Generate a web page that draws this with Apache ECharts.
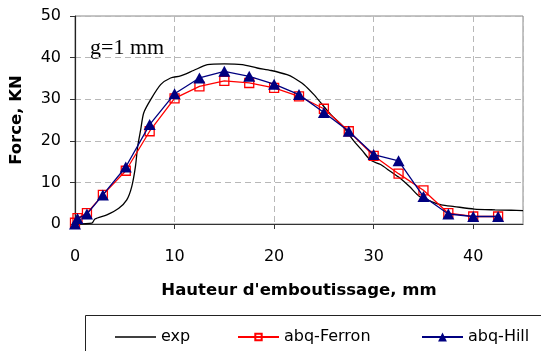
<!DOCTYPE html>
<html>
<head>
<meta charset="utf-8">
<script src="https://cdn.jsdelivr.net/npm/echarts@6/dist/echarts.min.js"></script>
<style>html,body{margin:0;padding:0;background:#fff}#c{width:541px;height:351px}</style>
</head>
<body>
<div id="c"></div>
<script>
// ---- data ----
const expX = [0, 1.7, 2.0, 3.2, 4.4, 5.2, 5.7, 6.07, 6.3, 6.6, 6.9, 7.6, 8.6, 9.6, 10.6, 11.9, 13.3, 15.0, 16.8, 18.3, 19.7, 21.3, 22.0, 23.0, 24.0, 24.7, 25.7, 26.9, 27.9, 28.9, 29.7, 30.7, 31.7, 32.6, 33.6, 34.6, 35.8, 36.8, 38.1, 40.1, 42.2, 43.8, 45];
const expY = [0, 0.2, 1.2, 2.2, 3.8, 5.8, 9.0, 13.8, 18.7, 22.7, 26.7, 29.9, 33.5, 35.1, 35.6, 36.9, 38.3, 38.5, 38.3, 37.5, 36.9, 35.9, 35.1, 33.5, 31.1, 29.1, 26.3, 23.5, 20.3, 17.5, 15.3, 14.3, 12.6, 11.1, 9.0, 6.6, 5.4, 4.6, 4.2, 3.6, 3.4, 3.3, 3.2];
const simX = [0, 0.25, 1.2, 2.8, 5.1, 7.5, 10, 12.5, 15, 17.5, 20, 22.5, 25, 27.5, 30, 32.5, 35, 37.5, 40, 42.5];
const ferronY = [0.3, 1.4, 2.6, 7.0, 12.8, 22.3, 30.2, 33.1, 34.4, 33.9, 32.7, 30.7, 27.7, 22.3, 16.4, 12.1, 8.1, 2.6, 1.8, 1.8];
const hillY = [0, 1.3, 2.4, 7.0, 13.7, 23.9, 31.3, 35.1, 36.7, 35.5, 33.6, 31.1, 26.8, 22.3, 16.7, 15.2, 6.6, 2.4, 1.8, 1.8];
const seriesNames = ['exp', 'abq-Ferron', 'abq-Hill'];
const xTicks = {min: 0, max: 45, interval: 10};
const yTicks = {min: 0, max: 50, interval: 10};
const annotation = 'g=1 mm';

const pairs = (xs, ys) => xs.map((x, i) => [x, ys[i]]);
const font = 'DejaVu Sans';
const legendText = {fontFamily: font, fontSize: 16, color: '#000'};

const chart = echarts.init(document.getElementById('c'), null, {renderer: 'canvas'});
chart.setOption({
  animation: false,
  backgroundColor: '#fff',
  grid: {left: 75, right: 18, top: 16, bottom: 127, show: true, borderColor: '#8a8a8a', borderWidth: 1, containLabel: false},
  xAxis: {
    type: 'value', min: xTicks.min, max: xTicks.max, interval: xTicks.interval,
    name: "Hauteur d'emboutissage, mm", nameLocation: 'middle', nameGap: 58,
    nameTextStyle: {fontFamily: font, fontWeight: 'bold', fontSize: 16.5, color: '#000'},
    axisLine: {show: true, onZero: false, lineStyle: {color: '#333', width: 1.2}},
    axisTick: {show: true, inside: false, length: 5, lineStyle: {color: '#333'}},
    axisLabel: {fontFamily: font, fontSize: 16, color: '#000', margin: 25, showMaxLabel: false},
    splitLine: {show: true, lineStyle: {color: '#b8b8b8', type: [6, 4], width: 1}}
  },
  yAxis: {
    type: 'value', min: yTicks.min, max: yTicks.max, interval: yTicks.interval,
    name: 'Force, KN', nameLocation: 'middle', nameGap: 50, nameRotate: 90,
    nameTextStyle: {fontFamily: font, fontWeight: 'bold', fontSize: 16.5, color: '#000'},
    axisLine: {show: true, onZero: false, lineStyle: {color: '#222', width: 1.2}},
    axisTick: {show: true, inside: false, length: 5, lineStyle: {color: '#333'}},
    axisLabel: {fontFamily: font, fontSize: 16, color: '#000', margin: 14},
    splitLine: {show: true, lineStyle: {color: '#b8b8b8', type: [6, 4], width: 1}}
  },
  legend: [
    {data: [{name: seriesNames[0], icon: 'rect'}], left: 110, top: 324, itemWidth: 41, itemHeight: 1.3, itemGap: 0,
     textStyle: legendText},
    {data: [seriesNames[1]], left: 232, top: 324, itemWidth: 41, itemHeight: 8, itemGap: 0,
     textStyle: legendText},
    {data: [seriesNames[2]], left: 416, top: 324, itemWidth: 41, itemHeight: 11, itemGap: 0,
     textStyle: legendText}
  ],
  graphic: [
    {type: 'rect', left: 83, top: 313, shape: {width: 520, height: 100}, silent: true,
     style: {fill: 'none', stroke: '#222', lineWidth: 1}},
    {type: 'text', left: 90, top: 37, silent: true,
     style: {text: annotation, font: '22px "Liberation Serif"', fill: '#000'}}
  ],
  series: [
    {name: seriesNames[0], type: 'line', data: pairs(expX, expY), symbol: 'none', smooth: 0.25,
     lineStyle: {color: '#000', width: 1.3}, itemStyle: {color: '#000'}, z: 1, clip: true},
    {name: seriesNames[1], type: 'line', data: pairs(simX, ferronY), symbol: 'rect', symbolSize: 9,
     lineStyle: {color: '#ff0000', width: 1.3},
     itemStyle: {color: 'rgba(255,255,255,0)', borderColor: '#ff0000', borderWidth: 1.3}, z: 2},
    {name: seriesNames[2], type: 'line', data: pairs(simX, hillY), symbol: 'triangle', symbolSize: [12, 11],
     lineStyle: {color: '#000080', width: 1.3},
     itemStyle: {color: '#000080'}, z: 3}
  ]
});
</script>
</body>
</html>
